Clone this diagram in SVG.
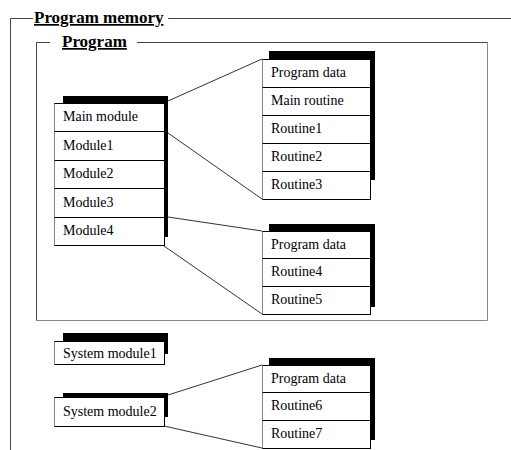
<svg xmlns="http://www.w3.org/2000/svg" width="511" height="450" viewBox="0 0 511 450">
<style>
.bg{fill:#fff}
.box{fill:#fff;stroke:#000;stroke-width:1}
.lb{stroke:#888;stroke-width:1}
.div{stroke:#000;stroke-width:1}
.shadow{fill:#000}
.t{font-family:"Liberation Serif","Times New Roman",serif;font-size:14px;fill:#000}
.title{font-family:"Liberation Serif","Times New Roman",serif;font-weight:bold;font-size:17px;text-decoration:underline;fill:#000}
.frame{fill:none;stroke:#444;stroke-width:1}
.frame2{fill:none;stroke:#888;stroke-width:1}
.conn{stroke:#333;stroke-width:1;fill:none}
</style>
<rect class="bg" x="0" y="0" width="511" height="450"/>
<g id="program-memory-frame">
<path class="frame" d="M10.5,450 V18.5 H33 M168,18.5 H511"/>
<text class="title" x="34" y="23">Program memory</text>
</g>
<g id="program-frame">
<path class="frame" d="M36.5,320 V42.5 H50 M137,42.5 H487"/>
<path class="frame2" d="M487.5,42 V320.5 H36"/>
<text class="title" x="62" y="47">Program</text>
</g>
<g id="connectors">
<line class="conn" x1="168" y1="101" x2="262" y2="59"/>
<line class="conn" x1="168" y1="133" x2="262" y2="199"/>
<line class="conn" x1="168" y1="217" x2="262" y2="231"/>
<line class="conn" x1="164" y1="246" x2="262" y2="314"/>
<line class="conn" x1="168" y1="395" x2="262" y2="365"/>
<line class="conn" x1="164" y1="426" x2="262" y2="448"/>
</g>
<g id="main-modules">
<rect class="shadow" x="63" y="96" width="105" height="141"/>
<rect class="box" x="54.5" y="103.5" width="110" height="142"/>
<line class="lb" x1="54.5" y1="103.5" x2="54.5" y2="245.5"/>
<line class="div" x1="54.5" y1="131.5" x2="164.5" y2="131.5"/>
<line class="div" x1="54.5" y1="160.5" x2="164.5" y2="160.5"/>
<line class="div" x1="54.5" y1="188.5" x2="164.5" y2="188.5"/>
<line class="div" x1="54.5" y1="217.5" x2="164.5" y2="217.5"/>
<text class="t" x="63" y="121">Main module</text>
<text class="t" x="63" y="150">Module1</text>
<text class="t" x="63" y="178">Module2</text>
<text class="t" x="63" y="207">Module3</text>
<text class="t" x="63" y="235">Module4</text>
</g>
<g id="routines-main">
<rect class="shadow" x="269" y="51" width="106" height="129"/>
<rect class="box" x="262.5" y="59.5" width="108" height="140"/>
<line class="lb" x1="262.5" y1="59.5" x2="262.5" y2="199.5"/>
<line class="div" x1="262.5" y1="87.5" x2="370.5" y2="87.5"/>
<line class="div" x1="262.5" y1="115.5" x2="370.5" y2="115.5"/>
<line class="div" x1="262.5" y1="143.5" x2="370.5" y2="143.5"/>
<line class="div" x1="262.5" y1="171.5" x2="370.5" y2="171.5"/>
<text class="t" x="271" y="77">Program data</text>
<text class="t" x="271" y="105">Main routine</text>
<text class="t" x="271" y="133">Routine1</text>
<text class="t" x="271" y="161">Routine2</text>
<text class="t" x="271" y="189">Routine3</text>
</g>
<g id="routines-module4">
<rect class="shadow" x="269" y="224" width="106" height="83"/>
<rect class="box" x="262.5" y="231.5" width="108" height="83"/>
<line class="lb" x1="262.5" y1="231.5" x2="262.5" y2="314.5"/>
<line class="div" x1="262.5" y1="258.5" x2="370.5" y2="258.5"/>
<line class="div" x1="262.5" y1="286.5" x2="370.5" y2="286.5"/>
<text class="t" x="271" y="249">Program data</text>
<text class="t" x="271" y="276">Routine4</text>
<text class="t" x="271" y="304">Routine5</text>
</g>
<g id="system-module1">
<rect class="shadow" x="63" y="333" width="105" height="21"/>
<rect class="box" x="54.5" y="341.5" width="110" height="23"/>
<line class="lb" x1="54.5" y1="341.5" x2="54.5" y2="364.5"/>
<text class="t" x="63" y="358">System module1</text>
</g>
<g id="system-module2">
<rect class="shadow" x="63" y="393" width="105" height="24"/>
<rect class="box" x="54.5" y="397.5" width="110" height="29"/>
<line class="lb" x1="54.5" y1="397.5" x2="54.5" y2="426.5"/>
<text class="t" x="63" y="416">System module2</text>
</g>
<g id="routines-system2">
<rect class="shadow" x="269" y="358" width="106" height="82"/>
<rect class="box" x="262.5" y="365.5" width="108" height="83"/>
<line class="lb" x1="262.5" y1="365.5" x2="262.5" y2="448.5"/>
<line class="div" x1="262.5" y1="392.5" x2="370.5" y2="392.5"/>
<line class="div" x1="262.5" y1="420.5" x2="370.5" y2="420.5"/>
<text class="t" x="271" y="383">Program data</text>
<text class="t" x="271" y="410">Routine6</text>
<text class="t" x="271" y="438">Routine7</text>
</g>
</svg>
